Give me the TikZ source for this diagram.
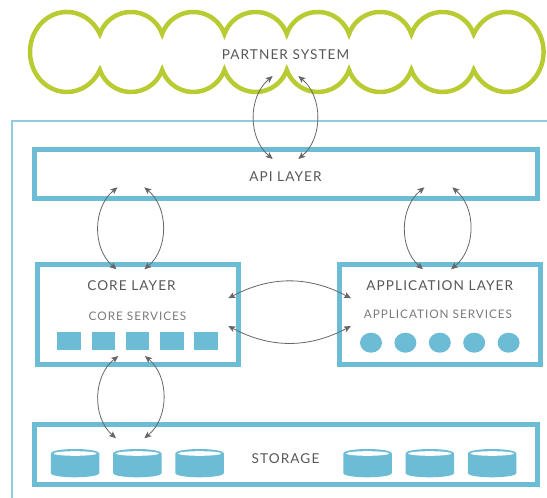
\documentclass[tikz,border=0pt]{standalone}
\usepackage{fontspec}
\setmainfont{Lato}[LetterSpace=8]
\usetikzlibrary{arrows.meta,shapes.geometric}
\definecolor{cloudgreen}{RGB}{184,203,50}
\definecolor{boxblue}{RGB}{108,188,213}
\definecolor{lineblue}{RGB}{142,204,222}
\definecolor{arrowgray}{RGB}{102,102,102}
\definecolor{titlegray}{RGB}{85,87,89}
\definecolor{svcgray}{RGB}{120,122,124}
\begin{document}
\begin{tikzpicture}[x=1pt,y=1pt,
  layerbox/.style={draw=boxblue, line width=5pt, inner sep=0pt},
  titletext/.style={font=\fontsize{13.6}{15}\selectfont, text=titlegray, inner sep=0pt},
  svctext/.style={font=\fontsize{11.8}{13}\selectfont, text=svcgray, inner sep=0pt},
  sqitem/.style={fill=boxblue, minimum width=23.5pt, minimum height=18.5pt, inner sep=0pt},
  ovitem/.style={ellipse, fill=boxblue, minimum width=22pt, minimum height=20pt, inner sep=0pt},
  flow/.style={draw=arrowgray, line width=0.8pt, {Stealth[length=7pt,width=6pt,inset=1.5pt]}-{Stealth[length=7pt,width=6pt,inset=1.5pt]}},
  cloudline/.style={draw=cloudgreen, line width=4.5pt, line join=miter}
]
\useasboundingbox (0,0) rectangle (547,-498);

% outer container (thin line)
\draw[lineblue, line width=1.3pt] (12,-498) -- (12,-121) -- (547,-121);

% cloud
\draw[cloudline] (99.85,-34)
  \foreach \i in {0,...,5} { arc[start angle=160.5, end angle=19.5, radius=33.05] }
  arc[start angle=153.3, end angle=-153.3, x radius=36.9, y radius=40]
  \foreach \i in {0,...,5} { arc[start angle=-19.5, end angle=-160.5, radius=33.05] }
  arc[start angle=-26.7, end angle=-333.3, x radius=36.9, y radius=40]
  -- cycle;
\node[titletext] (partner) at (285.5,-55) {PARTNER SYSTEM};

% layer boxes
\node[layerbox, minimum width=503pt, minimum height=49.5pt] (api) at (285.5,-173.75) {};
\node[titletext] (apilabel) at (285.5,-177) {API LAYER};

\node[layerbox, minimum width=201.5pt, minimum height=100pt] (core) at (137.75,-314) {};
\node[titletext] (corelabel) at (131.5,-285.3) {CORE LAYER};
\node[svctext] (coresvc) at (137.5,-316.2) {CORE SERVICES};

\node[layerbox, minimum width=201.5pt, minimum height=100pt] (app) at (439.75,-314) {};
\node[titletext] (applabel) at (439.75,-285.3) {APPLICATION LAYER};
\node[svctext] (appsvc) at (438,-314.2) {APPLICATION SERVICES};

\node[layerbox, minimum width=503pt, minimum height=60pt] (storage) at (285.5,-454) {};
\node[titletext] (storagelabel) at (285.5,-459) {STORAGE};

% core service squares
\foreach \i in {0,...,4} {
  \node[sqitem] (cs\i) at (69+34.25*\i,-341) {};
}
% application service circles
\foreach \i in {0,...,4} {
  \node[ovitem] (as\i) at (371+34.4*\i,-342.7) {};
}
% storage cylinders
\foreach \cx in {75,137.3,199.6,367.5,429.8,492.1} {
  \fill[boxblue] (\cx-24.25,-453.3) -- (\cx-24.25,-473.3)
    arc[start angle=180, end angle=360, x radius=24.25, y radius=4]
    -- (\cx+24.25,-453.3)
    arc[start angle=0, end angle=180, x radius=24.25, y radius=4.3] -- cycle;
  \fill[white] (\cx,-453.5) ellipse[x radius=21.7, y radius=2.3];
}

% connector end points
\coordinate (pa1b) at (272.7,-159); \coordinate (pa1t) at (272.7,-76);
\coordinate (pa2b) at (298.3,-159); \coordinate (pa2t) at (298.3,-76);
\coordinate (ac1b) at (116.5,-269.3); \coordinate (ac1t) at (117.5,-187.3);
\coordinate (ac2b) at (144.3,-269.3); \coordinate (ac2t) at (144.3,-187.3);
\coordinate (aa1b) at (423,-269.3); \coordinate (aa1t) at (424.5,-187.3);
\coordinate (aa2b) at (451,-269.3); \coordinate (aa2t) at (452.3,-187.3);
\coordinate (ca1l) at (228.3,-298.3); \coordinate (ca1r) at (351,-298.3);
\coordinate (ca2l) at (228.3,-326); \coordinate (ca2r) at (351,-326);
\coordinate (cs1b) at (116,-438.3); \coordinate (cs1t) at (118.3,-356);
\coordinate (cs2b) at (144.3,-438.3); \coordinate (cs2t) at (145,-356);

% connectors
\draw[flow] (pa1b) to[bend left=50] (pa1t);
\draw[flow] (pa2b) to[bend right=50] (pa2t);
\draw[flow] (ac1b) to[bend left=50] (ac1t);
\draw[flow] (ac2b) to[bend right=50] (ac2t);
\draw[flow] (aa1b) to[bend left=50] (aa1t);
\draw[flow] (aa2b) to[bend right=50] (aa2t);
\draw[flow] (ca1l) to[bend left=28] (ca1r);
\draw[flow] (ca2l) to[bend right=28] (ca2r);
\draw[flow] (cs1b) to[bend left=50] (cs1t);
\draw[flow] (cs2b) to[bend right=50] (cs2t);
\end{tikzpicture}
\end{document}
